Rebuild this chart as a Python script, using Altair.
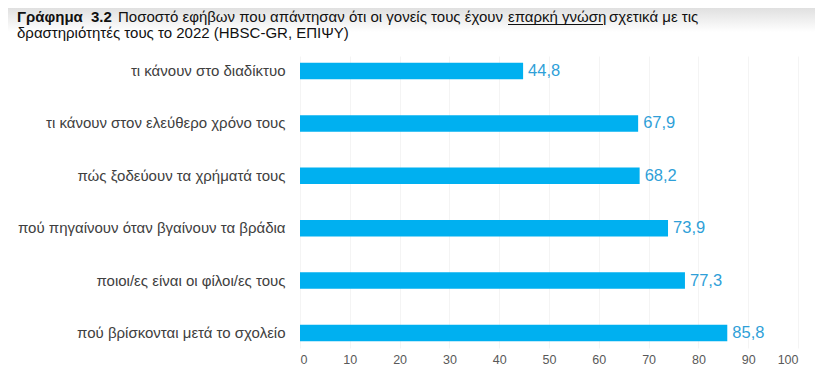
import altair as alt
import pandas as pd

categories = [
    "τι κάνουν στο διαδίκτυο",
    "τι κάνουν στον ελεύθερο χρόνο τους",
    "πώς ξοδεύουν τα χρήματά τους",
    "πού πηγαίνουν όταν βγαίνουν τα βράδια",
    "ποιοι/ες είναι οι φίλοι/ες τους",
    "πού βρίσκονται μετά το σχολείο",
]
values = [44.8, 67.9, 68.2, 73.9, 77.3, 85.8]
x_ticks = [0, 10, 20, 30, 40, 50, 60, 70, 80, 90, 100]

df = pd.DataFrame({
    "cat": categories,
    "val": values,
    "label": [f"{v:.1f}".replace(".", ",") for v in values],
})

FONT = "Liberation Sans"
PLOT_LEFT = 300
PLOT_TOP = 56

base = alt.Chart(df)

y_enc = alt.Y(
    "cat:N", sort=None, title=None,
    scale=alt.Scale(paddingInner=0.685, paddingOuter=0.13),
    axis=alt.Axis(domain=False, ticks=False, labelFontSize=15, labelColor="#404040",
                  labelPadding=15, labelFont=FONT, labelLimit=400),
)
x_enc = alt.X(
    "val:Q", title=None,
    scale=alt.Scale(domain=[0, 100], nice=False),
    axis=alt.Axis(values=x_ticks, domain=False, ticks=False, grid=True, gridColor="#f4f4f4",
                  labelColor="#595959", labelFontSize=12.5, labelPadding=5, labelFont=FONT),
)

bars = base.mark_bar(color="#00B0F0").encode(x=x_enc, y=y_enc)
labels = base.mark_text(align="left", baseline="middle", dx=5, fontSize=16.5, color="#2F9FD8",
                        font=FONT).encode(
    x="val:Q", y=alt.Y("cat:N", sort=None), text="label:N")


def tseg(text, x, y, bold=False):
    return alt.Chart(pd.DataFrame({"t": [text]})).mark_text(
        align="left", baseline="alphabetic", fontSize=15, font=FONT,
        fontWeight="bold" if bold else "normal", color="#111111",
    ).encode(x=alt.value(x - PLOT_LEFT), y=alt.value(y - PLOT_TOP), text="t:N")


shade = alt.Chart(pd.DataFrame({"a": [0]})).mark_rect(
    color=alt.Gradient(gradient="linear", x1=0, y1=0, x2=0, y2=1,
                       stops=[alt.GradientStop(color="#e0e0e0", offset=0),
                              alt.GradientStop(color="#ffffff", offset=1)])
).encode(x=alt.value(-PLOT_LEFT), x2=alt.value(823 - PLOT_LEFT),
         y=alt.value(8 - PLOT_TOP), y2=alt.value(32 - PLOT_TOP))

title_layers = [
    tseg("Γράφημα", 17, 21.5, bold=True),
    tseg("3.2", 91, 21.5, bold=True),
    tseg("Ποσοστό εφήβων που απάντησαν ότι οι γονείς τους έχουν", 118, 21.5),
    tseg("επαρκή γνώση", 508, 21.5),
    tseg("σχετικά με τις", 609, 21.5),
    tseg("δραστηριότητές τους το 2022 (HBSC-GR, ΕΠΙΨΥ)", 17, 37.5),
]
underline = alt.Chart(pd.DataFrame({"a": [0]})).mark_rule(color="#111111", strokeWidth=1).encode(
    x=alt.value(508 - PLOT_LEFT), x2=alt.value(603 - PLOT_LEFT), y=alt.value(24.5 - PLOT_TOP))

chart = alt.layer(shade, bars, labels, *title_layers, underline).properties(
    width=498, height=292, autosize="none",
    padding={"left": 292, "top": 48, "right": 17, "bottom": 26},
).configure_view(stroke=None)

chart.save("out.html", embed_options={"renderer": "svg", "actions": False})
